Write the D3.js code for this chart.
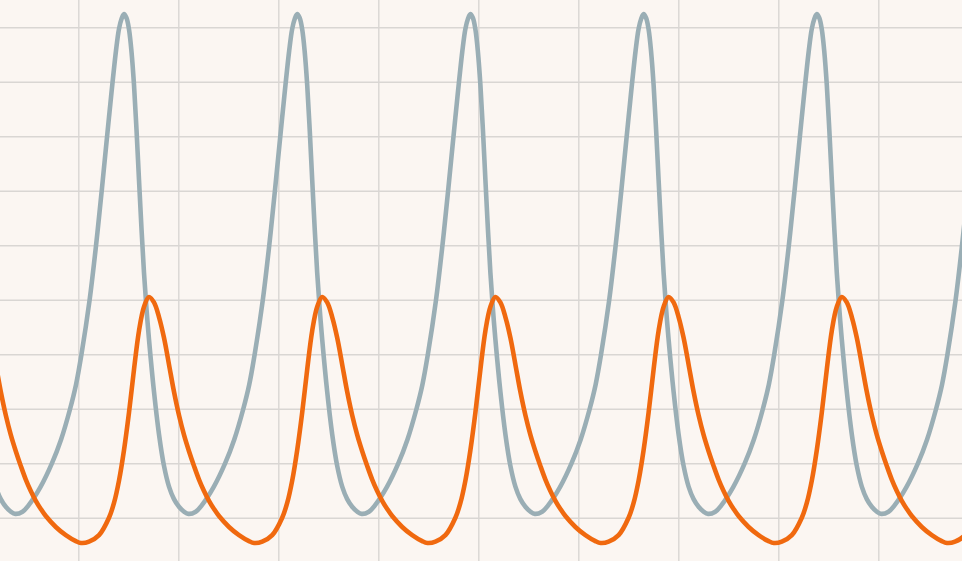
<!DOCTYPE html>
<html>
<head>
<meta charset="utf-8">
<script src="https://cdn.jsdelivr.net/npm/d3@7"></script>
<style>
  html, body { margin: 0; padding: 0; background: #fbf6f2; }
  svg { display: block; }
</style>
</head>
<body>
<div id="chart"></div>
<script>
const W = 962;
const H = 561;

// grid positions (time / population units)
const gridTimes = [1, 2, 3, 4, 5, 6, 7, 8, 9];
const gridValues = [1, 2, 3, 4, 5, 6, 7, 8, 9, 10];

// prey (grey)
const preyTime = [
  -0.025, 0.025, 0.075, 0.125, 0.175, 0.225, 0.275, 0.325, 0.37,
  0.442, 0.504, 0.621, 0.737, 0.827, 0.917, 0.977, 1.032, 1.112, 1.177, 1.237, 1.307, 1.377, 1.407, 1.432, 1.457,
  1.482, 1.507, 1.532, 1.557, 1.582, 1.607, 1.632, 1.657, 1.682, 1.707, 1.757, 1.807, 1.857, 1.907, 1.957, 2.007, 2.057, 2.102,
  2.174, 2.236, 2.353, 2.469, 2.559, 2.649, 2.709, 2.764, 2.844, 2.909, 2.969, 3.039, 3.109, 3.139, 3.164, 3.189,
  3.214, 3.239, 3.264, 3.289, 3.314, 3.339, 3.364, 3.389, 3.414, 3.439, 3.489, 3.539, 3.589, 3.639, 3.689, 3.739, 3.789, 3.834,
  3.906, 3.968, 4.085, 4.201, 4.291, 4.381, 4.441, 4.496, 4.576, 4.641, 4.701, 4.771, 4.841, 4.871, 4.896, 4.921,
  4.946, 4.971, 4.996, 5.021, 5.046, 5.071, 5.096, 5.121, 5.146, 5.171, 5.221, 5.271, 5.321, 5.371, 5.421, 5.471, 5.521, 5.566,
  5.638, 5.7, 5.817, 5.933, 6.023, 6.113, 6.173, 6.228, 6.308, 6.373, 6.433, 6.503, 6.573, 6.603, 6.628, 6.653,
  6.678, 6.703, 6.728, 6.753, 6.778, 6.803, 6.828, 6.853, 6.878, 6.903, 6.953, 7.003, 7.053, 7.103, 7.153, 7.203, 7.253, 7.298,
  7.37, 7.432, 7.549, 7.665, 7.755, 7.845, 7.905, 7.96, 8.04, 8.105, 8.165, 8.235, 8.305, 8.335, 8.36, 8.385,
  8.41, 8.435, 8.46, 8.485, 8.51, 8.535, 8.56, 8.585, 8.61, 8.635, 8.685, 8.735, 8.785, 8.835, 8.885, 8.935, 8.985, 9.03,
  9.102, 9.164, 9.281, 9.397, 9.487, 9.577, 9.637, 9.692, 9.772, 9.837, 9.897
];
const preyValue = [
  4.27, 3.31, 2.53, 1.95, 1.57, 1.34, 1.2, 1.11, 1.07,
  1.11, 1.23, 1.56, 2.0, 2.43, 2.99, 3.44, 4.0, 4.98, 5.99, 7.05, 8.35, 9.57, 9.97, 10.15, 10.24,
  10.17, 9.96, 9.55, 8.94, 8.12, 7.2, 6.3, 5.49, 4.83, 4.27, 3.31, 2.53, 1.95, 1.57, 1.34, 1.2, 1.11, 1.07,
  1.11, 1.23, 1.56, 2.0, 2.43, 2.99, 3.44, 4.0, 4.98, 5.99, 7.05, 8.35, 9.57, 9.97, 10.15, 10.24,
  10.17, 9.96, 9.55, 8.94, 8.12, 7.2, 6.3, 5.49, 4.83, 4.27, 3.31, 2.53, 1.95, 1.57, 1.34, 1.2, 1.11, 1.07,
  1.11, 1.23, 1.56, 2.0, 2.43, 2.99, 3.44, 4.0, 4.98, 5.99, 7.05, 8.35, 9.57, 9.97, 10.15, 10.24,
  10.17, 9.96, 9.55, 8.94, 8.12, 7.2, 6.3, 5.49, 4.83, 4.27, 3.31, 2.53, 1.95, 1.57, 1.34, 1.2, 1.11, 1.07,
  1.11, 1.23, 1.56, 2.0, 2.43, 2.99, 3.44, 4.0, 4.98, 5.99, 7.05, 8.35, 9.57, 9.97, 10.15, 10.24,
  10.17, 9.96, 9.55, 8.94, 8.12, 7.2, 6.3, 5.49, 4.83, 4.27, 3.31, 2.53, 1.95, 1.57, 1.34, 1.2, 1.11, 1.07,
  1.11, 1.23, 1.56, 2.0, 2.43, 2.99, 3.44, 4.0, 4.98, 5.99, 7.05, 8.35, 9.57, 9.97, 10.15, 10.24,
  10.17, 9.96, 9.55, 8.94, 8.12, 7.2, 6.3, 5.49, 4.83, 4.27, 3.31, 2.53, 1.95, 1.57, 1.34, 1.2, 1.11, 1.07,
  1.11, 1.23, 1.56, 2.0, 2.43, 2.99, 3.44, 4.0, 4.98, 5.99, 7.05
];

// predator (orange)
const predatorTime = [
  -0.025, 0.025, 0.075, 0.125, 0.175, 0.225, 0.275, 0.325, 0.375, 0.425, 0.475, 0.525, 0.575, 0.625, 0.675, 0.775, 0.875, 0.975, 1.027,
  1.107, 1.207, 1.307, 1.357, 1.407, 1.457, 1.507, 1.557, 1.607, 1.657, 1.707,
  1.757, 1.807, 1.857, 1.907, 1.957, 2.007, 2.057, 2.107, 2.157, 2.207, 2.257, 2.307, 2.357, 2.407, 2.507, 2.607, 2.707, 2.759,
  2.839, 2.939, 3.039, 3.089, 3.139, 3.189, 3.239, 3.289, 3.339, 3.389, 3.439,
  3.489, 3.539, 3.589, 3.639, 3.689, 3.739, 3.789, 3.839, 3.889, 3.939, 3.989, 4.039, 4.089, 4.139, 4.239, 4.339, 4.439, 4.491,
  4.571, 4.671, 4.771, 4.821, 4.871, 4.921, 4.971, 5.021, 5.071, 5.121, 5.171,
  5.221, 5.271, 5.321, 5.371, 5.421, 5.471, 5.521, 5.571, 5.621, 5.671, 5.721, 5.771, 5.821, 5.871, 5.971, 6.071, 6.171, 6.223,
  6.303, 6.403, 6.503, 6.553, 6.603, 6.653, 6.703, 6.753, 6.803, 6.853, 6.903,
  6.953, 7.003, 7.053, 7.103, 7.153, 7.203, 7.253, 7.303, 7.353, 7.403, 7.453, 7.503, 7.553, 7.603, 7.703, 7.803, 7.903, 7.955,
  8.035, 8.135, 8.235, 8.285, 8.335, 8.385, 8.435, 8.485, 8.535, 8.585, 8.635,
  8.685, 8.735, 8.785, 8.835, 8.885, 8.935, 8.985, 9.035, 9.085, 9.135, 9.185, 9.235, 9.285, 9.335, 9.435, 9.535, 9.635, 9.687,
  9.767, 9.867, 9.967
];
const predatorValue = [
  5.05, 4.95, 4.68, 4.3, 3.81, 3.31, 2.88, 2.52, 2.22, 1.95, 1.7, 1.49, 1.31, 1.16, 1.03, 0.83, 0.68, 0.57, 0.536,
  0.56, 0.68, 1.0, 1.27, 1.68, 2.24, 2.93, 3.72, 4.43, 4.87, 5.05,
  4.95, 4.68, 4.3, 3.81, 3.31, 2.88, 2.52, 2.22, 1.95, 1.7, 1.49, 1.31, 1.16, 1.03, 0.83, 0.68, 0.57, 0.536,
  0.56, 0.68, 1.0, 1.27, 1.68, 2.24, 2.93, 3.72, 4.43, 4.87, 5.05,
  4.95, 4.68, 4.3, 3.81, 3.31, 2.88, 2.52, 2.22, 1.95, 1.7, 1.49, 1.31, 1.16, 1.03, 0.83, 0.68, 0.57, 0.536,
  0.56, 0.68, 1.0, 1.27, 1.68, 2.24, 2.93, 3.72, 4.43, 4.87, 5.05,
  4.95, 4.68, 4.3, 3.81, 3.31, 2.88, 2.52, 2.22, 1.95, 1.7, 1.49, 1.31, 1.16, 1.03, 0.83, 0.68, 0.57, 0.536,
  0.56, 0.68, 1.0, 1.27, 1.68, 2.24, 2.93, 3.72, 4.43, 4.87, 5.05,
  4.95, 4.68, 4.3, 3.81, 3.31, 2.88, 2.52, 2.22, 1.95, 1.7, 1.49, 1.31, 1.16, 1.03, 0.83, 0.68, 0.57, 0.536,
  0.56, 0.68, 1.0, 1.27, 1.68, 2.24, 2.93, 3.72, 4.43, 4.87, 5.05,
  4.95, 4.68, 4.3, 3.81, 3.31, 2.88, 2.52, 2.22, 1.95, 1.7, 1.49, 1.31, 1.16, 1.03, 0.83, 0.68, 0.57, 0.536,
  0.56, 0.68, 1.0
];

const prey = preyTime.map((t, i) => ({ t: t, v: preyValue[i] }));
const predator = predatorTime.map((t, i) => ({ t: t, v: predatorValue[i] }));

const svg = d3.select("#chart")
  .append("svg")
    .attr("width", W)
    .attr("height", H);

svg.append("rect")
  .attr("width", W)
  .attr("height", H)
  .attr("fill", "#fbf6f2");

// visible window of the plot
const x = d3.scaleLinear().domain([0.217, 9.837]).range([0, W]);
const y = d3.scaleLinear().domain([0.2055, 10.499]).range([H, 0]);

// vertical grid
const gx = svg.append("g")
  .attr("transform", "translate(0," + H + ")")
  .call(d3.axisBottom(x).tickValues(gridTimes).tickSize(-H).tickFormat(""));
// horizontal grid
const gy = svg.append("g")
  .call(d3.axisLeft(y).tickValues(gridValues).tickSize(-W).tickFormat(""));

[gx, gy].forEach(g => {
  g.select(".domain").remove();
  g.selectAll(".tick line")
    .attr("stroke", "#d9d6d3")
    .attr("stroke-width", 1.4);
});

svg.append("clipPath")
  .attr("id", "clip")
  .append("rect")
    .attr("width", W)
    .attr("height", H);

const line = d3.line()
  .x(d => x(d.t))
  .y(d => y(d.v))
  .curve(d3.curveCatmullRom.alpha(0.5));

svg.append("path")
  .datum(prey)
  .attr("clip-path", "url(#clip)")
  .attr("fill", "none")
  .attr("stroke", "#9aaeb5")
  .attr("stroke-width", 4.6)
  .attr("stroke-linejoin", "round")
  .attr("d", line);

svg.append("path")
  .datum(predator)
  .attr("clip-path", "url(#clip)")
  .attr("fill", "none")
  .attr("stroke", "#f0690f")
  .attr("stroke-width", 4.6)
  .attr("stroke-linejoin", "round")
  .attr("d", line);
</script>
</body>
</html>
